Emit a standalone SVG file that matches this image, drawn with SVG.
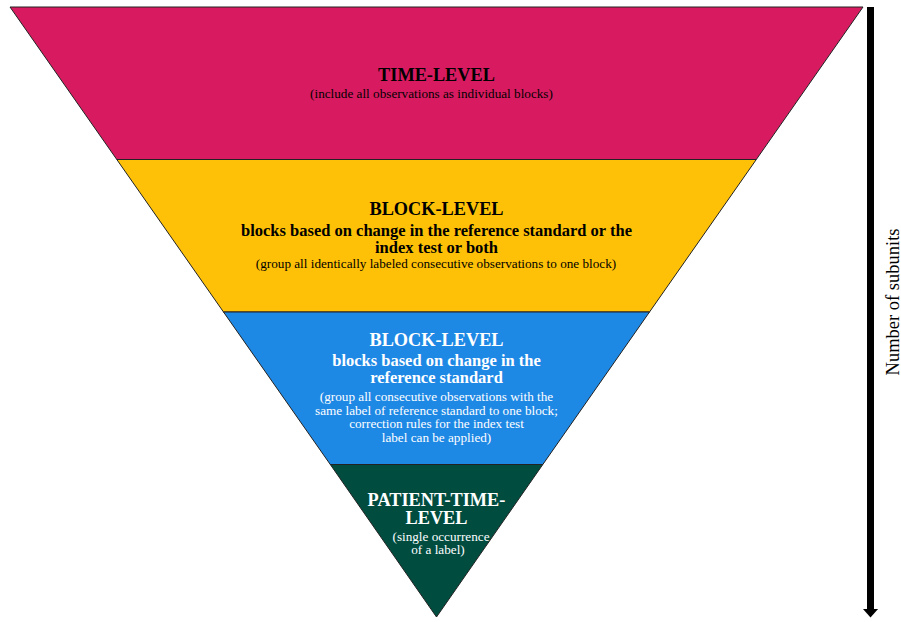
<svg xmlns="http://www.w3.org/2000/svg" width="901" height="622" viewBox="0 0 901 622">
  <style>
    .band { stroke: #222; stroke-width: 1; stroke-linejoin: miter; }
    text { font-family: "Liberation Serif", "Times New Roman", serif; text-anchor: middle; }
    .title { font-size: 18.3px; font-weight: bold; }
    .sub { font-size: 16.5px; font-weight: bold; }
    .note { font-size: 13.2px; }
    .dark { fill: #000; }
    .light { fill: #fff; }
  </style>
  <defs>
    <marker id="arrowHead" viewBox="0 0 9 16" refX="0.5" refY="8" markerWidth="9" markerHeight="16" markerUnits="userSpaceOnUse" orient="auto">
      <path d="M0,0 L9,8 L0,16 Z" fill="#000"/>
    </marker>
  </defs>
  <rect width="901" height="622" fill="#fff"/>

  <!-- Top band: time level -->
  <g id="time-level">
    <polygon class="band" points="10,7 863,7 756.3,159.5 116.8,159.5" fill="#D81B60"/>
    <text class="title dark" x="436.5" y="80.5">TIME-LEVEL</text>
    <text class="note dark" x="431.5" y="97.5" font-size="12.6">(include all observations as individual blocks)</text>
  </g>

  <!-- Second band: block level, reference standard or index test -->
  <g id="block-level-both">
    <polygon class="band" points="116.8,159.5 756.3,159.5 649.5,312 223.5,312" fill="#FFC107"/>
    <text class="title dark" x="436.5" y="214.5">BLOCK-LEVEL</text>
    <text class="sub dark" x="436.5" y="235.5">blocks based on change in the reference standard or the</text>
    <text class="sub dark" x="436.5" y="252.5">index test or both</text>
    <text class="note dark" x="436" y="267.5">(group all identically labeled consecutive observations to one block)</text>
  </g>

  <!-- Third band: block level, reference standard only -->
  <g id="block-level-reference">
    <polygon class="band" points="223.5,312 649.5,312 542.8,464.5 330.3,464.5" fill="#1E88E5"/>
    <text class="title light" x="436.5" y="345.5">BLOCK-LEVEL</text>
    <text class="sub light" x="436.5" y="365.5">blocks based on change in the</text>
    <text class="sub light" x="436.5" y="382.5">reference standard</text>
    <text class="note light" x="436.5" y="401">(group all consecutive observations with the</text>
    <text class="note light" x="436.5" y="414.5">same label of reference standard to one block;</text>
    <text class="note light" x="436.5" y="428">correction rules for the index test</text>
    <text class="note light" x="436.5" y="441.5">label can be applied)</text>
  </g>

  <!-- Bottom tip: patient-time level -->
  <g id="patient-time-level">
    <polygon class="band" points="330.3,464.5 542.8,464.5 436.5,617" fill="#004D40"/>
    <text class="title light" x="436.5" y="506" font-size="17.8">PATIENT-TIME-</text>
    <text class="title light" x="436.5" y="524" font-size="17.8">LEVEL</text>
    <text class="note light" x="441" y="540.5" font-size="12">(single occurrence</text>
    <text class="note light" x="438" y="553.5" font-size="12">of a label)</text>
  </g>

  <!-- Axis arrow on the right -->
  <g id="connectors">
    <line x1="870.5" y1="7" x2="870.5" y2="609" stroke="#000" stroke-width="7" marker-end="url(#arrowHead)"/>
  </g>
  <g id="axis-label">
    <text transform="translate(899,302) rotate(-90)" font-size="18.5" fill="#000">Number of subunits</text>
  </g>
</svg>
